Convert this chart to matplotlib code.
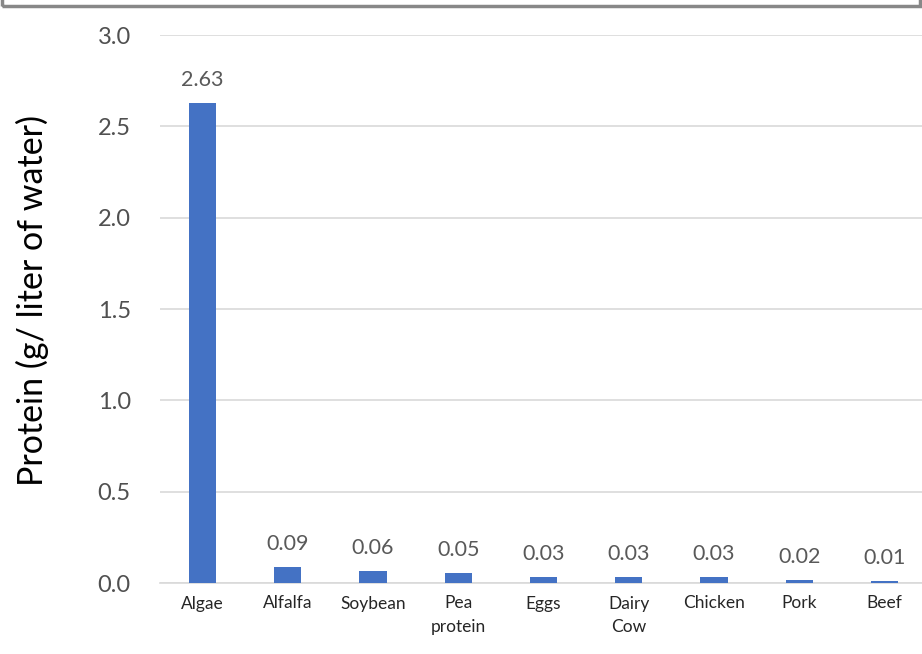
import matplotlib
matplotlib.use("Agg")
import matplotlib.pyplot as plt
from matplotlib.patches import Rectangle

categories = ["Algae", "Alfalfa", "Soybean", "Pea\nprotein", "Eggs", "Dairy\nCow", "Chicken", "Pork", "Beef"]
values = [2.63, 0.088, 0.066, 0.057, 0.033, 0.033, 0.033, 0.016, 0.012]
labels = ["2.63", "0.09", "0.06", "0.05", "0.03", "0.03", "0.03", "0.02", "0.01"]
yticks = [0.0, 0.5, 1.0, 1.5, 2.0, 2.5, 3.0]

plt.rcParams['font.family'] = ['Lato', 'DejaVu Sans']

fig = plt.figure(figsize=(9.22, 6.54), dpi=100)
ax = fig.add_axes([160/922, (654-583)/654, (927-160)/922, (583-35)/654])

x = list(range(len(categories)))
bars = ax.bar(x, values, width=0.32, color="#4472C4", zorder=3)
for xi, v, lab in zip(x, values, labels):
    ax.text(xi, v + 0.07, lab, ha="center", va="bottom", fontsize=15.5, color="#595959")

ax.set_xlim(-0.5, len(categories) - 0.5)
ax.set_ylim(0, 3.0)
ax.set_yticks(yticks)
ax.set_yticklabels([f"{t:.1f}" for t in yticks], fontsize=17, color="#505050")
ax.set_xticks(x)
ax.set_xticklabels(categories, fontsize=12.5, color="#262626", linespacing=1.55)
ax.tick_params(axis="both", length=0)
ax.tick_params(axis="y", pad=21)
ax.tick_params(axis="x", pad=9)
for t in ax.get_xticklabels():
    t.set_verticalalignment("top")
ax.yaxis.grid(True, color="#d9d9d9", linewidth=1.2, zorder=0)
for s in ["top", "right", "left"]:
    ax.spines[s].set_visible(False)
ax.spines["bottom"].set_color("#d9d9d9")
ax.spines["bottom"].set_linewidth(1.2)
ax.set_ylabel("Protein (g/ liter of water)", fontsize=24.5, color="black")
ax.yaxis.set_label_coords(-0.145, 0.515)

# screenshot frame at top
fig.patches.append(Rectangle((0.002, (654-6)/654), 0.996, 0.02, transform=fig.transFigure,
                             fill=False, edgecolor="#888888", linewidth=2.5))

fig.savefig("out.png", dpi=100)
